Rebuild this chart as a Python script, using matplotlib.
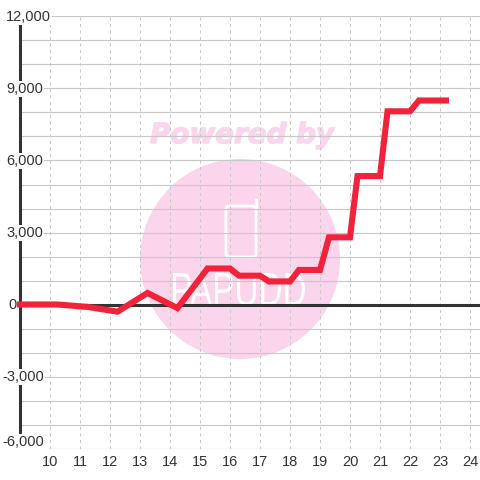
import matplotlib
matplotlib.use("Agg")
import matplotlib.pyplot as plt
import matplotlib.patheffects as pe
from matplotlib.patches import Circle, FancyBboxPatch, PathPatch
from matplotlib.textpath import TextPath
from matplotlib.font_manager import FontProperties
from matplotlib.transforms import Affine2D, IdentityTransform

plt.rcParams['font.family'] = ['Liberation Sans', 'DejaVu Sans']

# Datos
x_vals = [8.9, 10.25, 11.25, 12.25, 13.25, 14.25, 15.25, 16.0, 16.3, 17.0, 17.3, 18.0, 18.3, 19.0, 19.3, 20.0, 20.25, 21.0, 21.25, 22.0, 22.3, 23.3]
y_vals = [0, 0, -100, -300, 480, -150, 1500, 1500, 1200, 1200, 960, 960, 1440, 1440, 2800, 2800, 5350, 5350, 8050, 8050, 8500, 8500]
x_ticks = list(range(10, 25))
y_ticks = [12000, 9000, 6000, 3000, 0, -3000, -6000]
y_labels = ['12,000', '9,000', '6,000', '3,000', '0', '-3,000', '-6,000']
y_grid = list(range(-6000, 13000, 1000))

W = 480
fig = plt.figure(figsize=(4.8, 4.8), dpi=100)
ax = fig.add_axes([20 / W, 31.5 / W, (W - 20) / W, 432 / W])
ax.set_xlim(9, 9 + (W - 20) / 30)
ax.set_ylim(-6000, 12000)

# Marca de agua
px = IdentityTransform()
pink = '#fbd5ec'
ax.add_patch(Circle((240, W - 259), 100, transform=px, fc=pink, ec='none', zorder=0.1))
ax.add_patch(FancyBboxPatch((226, W - 257), 30, 51, boxstyle='round,pad=0,rounding_size=3', transform=px,
                            fc='none', ec='white', lw=2, zorder=0.2))
ax.plot([255.5, 255.5], [W - 208, W - 200], transform=px, color='white', lw=2.4, zorder=0.2)

logo = TextPath((0, 0), 'PAPUDD', size=40, prop=FontProperties(family='Liberation Sans'))
box = logo.get_extents()
logo_tr = Affine2D().translate(-box.x0, -box.y0).scale(132 / box.width, 33 / box.height).translate(173, W - 306)
ax.add_patch(PathPatch(logo, transform=logo_tr, fc='white', ec='none', zorder=0.2))

ax.text(242, W - 135, 'Powered by', transform=px, color=pink, fontsize=20, fontweight='bold', style='italic',
        family='DejaVu Sans', ha='center', va='center', zorder=0.2,
        path_effects=[pe.withStroke(linewidth=1, foreground=pink)])

# Rejilla
ax.set_axisbelow(True)
ax.set_xticks(x_ticks)
ax.set_yticks(y_grid)
ax.grid(axis='y', color='#c8c8c8', lw=0.85, zorder=0.5)
ax.grid(axis='x', color='#c8c8c8', lw=0.72, ls=(0, (3, 3.5)), zorder=0.5)
ax.tick_params(length=0)
ax.set_yticklabels([])
ax.set_xticklabels([str(v) for v in x_ticks], fontsize=10.5, color='#333333')
ax.tick_params(axis='x', pad=4.5)

for s in ['top', 'right', 'bottom']:
    ax.spines[s].set_visible(False)
ax.spines['left'].set_color('#333333')
ax.spines['left'].set_linewidth(2.2)
ax.spines['left'].set_bounds(-5500, 12000)
ax.axhline(0, color='#333333', lw=2.2, zorder=1.5)

# Serie
ax.plot(x_vals, y_vals, color='#f0233a', lw=4.4, solid_joinstyle='miter', solid_capstyle='butt', clip_on=False, zorder=3)

# Etiquetas del eje y con fondo blanco
ytrans = ax.get_yaxis_transform()
for v, lab in zip(y_ticks, y_labels):
    off = -13 if lab[0] == '-' else (-10 if lab != '0' else -8.6)
    dy = 4.6 if v == -6000 else -0.5
    ax.annotate(lab, xy=(0, v), xycoords=ytrans, xytext=(off, dy), textcoords='offset points',
                fontsize=10.5, color='#333333', ha='left', va='center', zorder=5, annotation_clip=False,
                bbox=dict(fc='white', ec='none', pad=0.6))

fig.savefig('out.png', dpi=100)
